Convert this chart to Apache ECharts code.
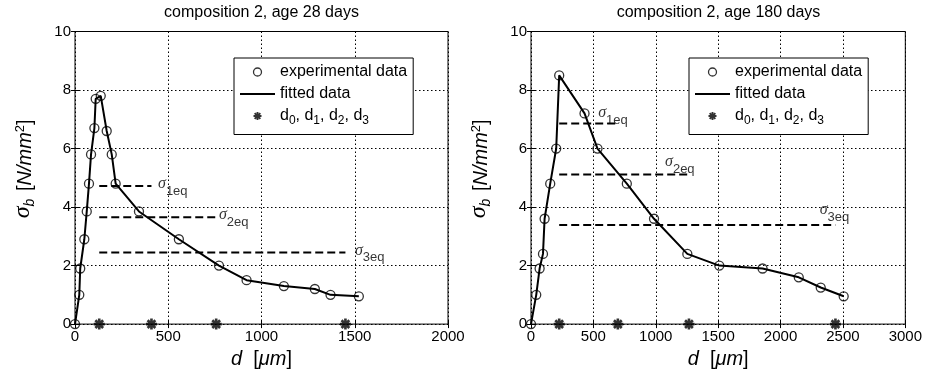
<!DOCTYPE html>
<html><head><meta charset="utf-8">
<script src="https://cdn.jsdelivr.net/npm/echarts@6/dist/echarts.min.js"></script>
<style>html,body{margin:0;padding:0;background:#fff}#c{width:925px;height:374px}</style>
</head><body><div id="c"></div>
<script>
// ---- data: composition 2, age 28 days ----
const titles = ['composition 2, age 28 days', 'composition 2, age 180 days'];
const d28 = [0, 23, 28, 50, 63, 75, 86, 104, 111, 138, 170, 197, 218, 343, 557, 772, 920, 1120, 1286, 1370, 1522];
const s28 = [0, 1.0, 1.9, 2.9, 3.85, 4.8, 5.8, 6.7, 7.7, 7.8, 6.6, 5.8, 4.8, 3.85, 2.9, 2.0, 1.5, 1.3, 1.2, 1.0, 0.95];
const dk28 = [130, 410, 757, 1450];          // d0..d3
const seq28 = [4.72, 3.65, 2.45];            // sigma1eq..sigma3eq
const lab28 = [[445, 4.68], [772, 3.62], [1501, 2.40]]; // annotation anchors
// ---- data: composition 2, age 180 days ----
const d180 = [0, 42, 69, 96, 109, 154, 202, 226, 429, 533, 768, 986, 1253, 1509, 1856, 2146, 2322, 2506];
const s180 = [0, 1.0, 1.9, 2.4, 3.6, 4.8, 6.0, 8.5, 7.2, 6.0, 4.8, 3.6, 2.4, 2.0, 1.9, 1.6, 1.25, 0.95];
const dk180 = [226, 696, 1266, 2440];
const seq180 = [6.86, 5.11, 3.385];
const lab180 = [[538, 7.10], [1074, 5.43], [2314, 3.79]];
// axes
const xMax = [2000, 3000];
const xStep = 500;
const yMax = 10, yStep = 2;

const F = 'Liberation Sans, Arial, Helvetica, sans-serif';
const SER = 'Liberation Serif, DejaVu Serif, serif';
const STAR = 'path://M-5,-1.2L5,-1.2L5,1.2L-5,1.2Z M1.2,-5L1.2,5L-1.2,5L-1.2,-5Z M-2.69,-4.38L4.38,2.69L2.69,4.38L-4.38,-2.69Z M4.38,-2.69L-2.69,4.38L-4.38,2.69L2.69,-4.38Z';
const LINEICON = 'path://M0,0L35,0L35,2L0,2Z';
const NAMES = ['experimental data', 'fitted data', 'd0, d1, d2, d3'];
const HOLLOW = {color: 'rgba(0,0,0,0)', borderColor: '#000', borderWidth: 1.3};

const panels = [
  {d: d28, s: s28, dk: dk28, seq: seq28, lab: lab28},
  {d: d180, s: s180, dk: dk180, seq: seq180, lab: lab180}
];
const grids = [
  {left: 75, top: 31.5, width: 373, height: 293.5},
  {left: 531, top: 31.5, width: 375, height: 293.5}
];

const option = {
  animation: false,
  backgroundColor: '#fff',
  textStyle: {fontFamily: F, color: '#000'},
  title: grids.map((g, i) => ({
    text: titles[i], left: g.left + g.width / 2, top: 5, padding: 0, textAlign: 'center',
    textStyle: {fontFamily: F, fontSize: 16, fontWeight: 'normal', color: '#000'}
  })),
  grid: grids.map(g => Object.assign({show: true, borderColor: '#000', borderWidth: 1, backgroundColor: 'transparent'}, g)),
  xAxis: [],
  yAxis: [],
  legend: [],
  series: []
};

const richName = {
  it: {fontFamily: F, fontStyle: 'italic', fontSize: 20, color: '#000'},
  up: {fontFamily: F, fontSize: 20, color: '#000'},
  sg: {fontFamily: SER, fontStyle: 'italic', fontSize: 24, color: '#000', padding: [0, 0, 4, 0]},
  sb: {fontFamily: F, fontStyle: 'italic', fontSize: 14, color: '#000', padding: [10, 2, 0, 0]},
  sp: {fontFamily: F, fontSize: 13, color: '#000', padding: [0, 0, 10, 0]}
};

const richEq = {
  sg: {fontFamily: SER, fontStyle: 'italic', fontSize: 16, color: '#000', padding: [0, 0, 7, 0]},
  sb: {fontFamily: F, fontSize: 13, color: '#000', padding: [8, 0, 0, 0]}
};

const plain = v => String(v);

panels.forEach((p, i) => {
  option.xAxis.push({
    type: 'value', gridIndex: i, min: 0, max: xMax[i], interval: xStep,
    name: '{it|d}{up|  [}{it|\u03bcm}{up|]}', nameLocation: 'middle', nameGap: 22,
    nameTextStyle: {rich: richName},
    axisLine: {show: false},
    axisTick: {show: true, inside: true, length: 4, lineStyle: {color: '#000'}},
    axisLabel: {fontFamily: F, fontSize: 15, color: '#000', margin: 5, formatter: plain},
    splitLine: {show: true, lineStyle: {color: '#000', type: [1.5, 2.5], width: 1}}
  });
  option.yAxis.push({
    type: 'value', gridIndex: i, min: 0, max: yMax, interval: yStep,
    name: '{sg|\u03c3}{sb|b}{up| [}{it|N/mm}{sp|2}{up|]}', nameLocation: 'middle', nameGap: 36, nameRotate: 90,
    nameTextStyle: {rich: richName, padding: [0, 0, 0, 18]},
    axisLine: {show: false},
    axisTick: {show: true, inside: true, length: 4, lineStyle: {color: '#000'}},
    axisLabel: {fontFamily: F, fontSize: 15, color: '#000', margin: 4, formatter: plain},
    splitLine: {show: true, lineStyle: {color: '#000', type: [1.5, 2.5], width: 1}}
  });
  option.xAxis.push({
    type: 'value', gridIndex: i, min: 0, max: xMax[i], interval: xStep, position: 'top',
    axisLine: {show: false}, axisLabel: {show: false}, splitLine: {show: false},
    axisTick: {show: true, inside: true, length: 4, lineStyle: {color: '#000'}}
  });
  option.yAxis.push({
    type: 'value', gridIndex: i, min: 0, max: yMax, interval: yStep, position: 'right',
    axisLine: {show: false}, axisLabel: {show: false}, splitLine: {show: false},
    axisTick: {show: true, inside: true, length: 4, lineStyle: {color: '#000'}}
  });
  const xi = i * 2, yi = i * 2;
  const pts = p.d.map((x, k) => [x, p.s[k]]);
  p.seq.forEach((v, k) => {
    option.series.push({
      type: 'line', name: 'seq' + k, xAxisIndex: xi, yAxisIndex: yi, symbol: 'none', silent: true,
      data: [[p.dk[0], v], [p.dk[k + 1], v]],
      lineStyle: {color: '#000', width: 2, type: [8, 4]}, z: 2
    });
  });
  option.series.push({
    type: 'scatter', name: 'lab', xAxisIndex: xi, yAxisIndex: yi, symbolSize: 0, silent: true,
    data: p.lab,
    label: {
      show: true, position: [0, 0], align: 'left', verticalAlign: 'middle', color: '#000',
      formatter: prm => '{sg|\u03c3}{sb|' + (prm.dataIndex + 1) + 'eq}',
      rich: richEq
    }
  });
  option.series.push({
    type: 'line', name: NAMES[1], xAxisIndex: xi, yAxisIndex: yi, symbol: 'none',
    data: pts, lineStyle: {color: '#000', width: 2}, itemStyle: {color: '#000'}, z: 3
  });
  option.series.push({
    type: 'scatter', name: NAMES[0], xAxisIndex: xi, yAxisIndex: yi, symbol: 'circle', symbolSize: 9,
    data: pts, itemStyle: HOLLOW, emphasis: {disabled: true}, z: 4
  });
  option.series.push({
    type: 'scatter', name: NAMES[2], xAxisIndex: xi, yAxisIndex: yi, symbol: STAR, symbolSize: 11,
    data: p.dk.map(x => [x, 0]), itemStyle: {color: '#000'}, z: 5, clip: false
  });
  option.legend.push({
    data: [
      {name: NAMES[0], icon: 'circle', itemStyle: HOLLOW},
      {name: NAMES[1], icon: LINEICON, itemStyle: {color: '#000', borderWidth: 0}},
      {name: NAMES[2], icon: STAR, itemStyle: {color: '#000'}}
    ],
    orient: 'vertical', left: [234, 689][i], top: 58,
    backgroundColor: '#fff', borderColor: '#000', borderWidth: 1, borderRadius: 0,
    padding: [6, 6, 8, 6], itemGap: 6, itemWidth: 35, itemHeight: 8,
    selectedMode: false,
    formatter: n => n === NAMES[2] ? '{t|d}{s|0}{t|, d}{s|1}{t|, d}{s|2}{t|, d}{s|3}' : '{t|' + n + '}',
    textStyle: {
      fontFamily: F, fontSize: 16, color: '#000',
      rich: {t: {fontFamily: F, fontSize: 16, color: '#000', height: 17}, s: {fontFamily: F, fontSize: 12, color: '#000', padding: [9, 0, 0, 0]}}
    }
  });
});

const chart = echarts.init(document.getElementById('c'));
chart.setOption(option);
</script>
</body></html>
